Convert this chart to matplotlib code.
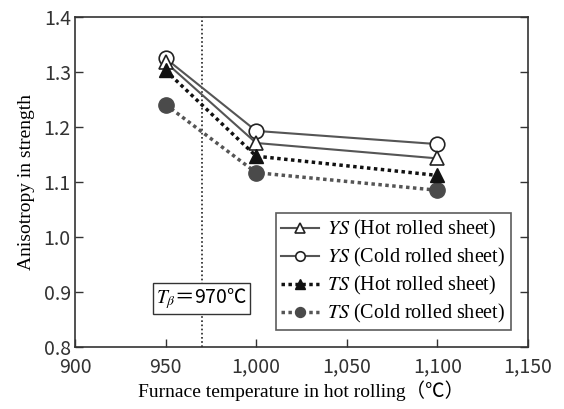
import matplotlib
matplotlib.use("Agg")
import matplotlib.pyplot as plt

plt.rcParams['mathtext.fontset'] = 'stix'

# Furnace temperatures (°C) and strength anisotropy values
temperature = [950, 1000, 1100]
ys_hot = [1.318, 1.171, 1.143]
ys_cold = [1.325, 1.193, 1.169]
ts_hot = [1.303, 1.147, 1.112]
ts_cold = [1.241, 1.117, 1.085]
t_beta = 970

x_ticks = [900, 950, 1000, 1050, 1100, 1150]
x_tick_labels = ['900', '950', '1,000', '1,050', '1,100', '1,150']
y_ticks = [0.8, 0.9, 1.0, 1.1, 1.2, 1.3, 1.4]

labels = [r'$\mathit{YS}$ (Hot rolled sheet)',
          r'$\mathit{YS}$ (Cold rolled sheet)',
          r'$\mathit{TS}$ (Hot rolled sheet)',
          r'$\mathit{TS}$ (Cold rolled sheet)']

serif = ['Liberation Serif', 'Noto Sans CJK JP']
sans = ['Noto Sans CJK JP', 'DejaVu Sans']

fig = plt.figure(figsize=(5.64, 4.09), dpi=100)
ax = fig.add_axes([0.133, 0.152, 0.803, 0.806])

gray = '#555555'
dark = '#4a4a4a'

ax.plot(temperature, ys_hot, color=gray, lw=1.5, marker='^', ms=10,
        mfc='white', mec='#222222', mew=1.2, label=labels[0], zorder=4)
ax.plot(temperature, ys_cold, color=gray, lw=1.5, marker='o', ms=10.5,
        mfc='white', mec='#222222', mew=1.2, label=labels[1], zorder=3)
ax.plot(temperature, ts_hot, color='#111111', lw=2.5, ls=(0, (1, 1)),
        marker='^', ms=10.5, mfc='#111111', mec='#111111', label=labels[2], zorder=5)
ax.plot(temperature, ts_cold, color=gray, lw=2.5, ls=(0, (1, 1)),
        marker='o', ms=11, mfc=dark, mec=dark, label=labels[3], zorder=2)

ax.axvline(t_beta, color='#222222', lw=1.2, ls=(0, (1, 1.5)), zorder=1)

ax.text(t_beta, 0.888, r'$T_\beta$' + '＝970℃', fontsize=14, family=sans,
        ha='center', va='center', zorder=6,
        bbox=dict(boxstyle='square,pad=0.15', fc='white', ec='#333333', lw=1))

ax.set_xlim(900, 1150)
ax.set_ylim(0.8, 1.4)
ax.set_xticks(x_ticks)
ax.set_xticklabels(x_tick_labels)
ax.set_yticks(y_ticks)
ax.set_yticklabels([f'{v:.1f}' for v in y_ticks])

for lab in ax.get_xticklabels() + ax.get_yticklabels():
    lab.set_family(sans)
    lab.set_fontsize(14)
    lab.set_color('#333333')

ax.tick_params(direction='in', length=6, width=1, right=True,
               color='#333333')
ax.tick_params(axis='x', pad=7)
ax.tick_params(axis='y', pad=3)
for s in ax.spines.values():
    s.set_color('#333333')
    s.set_linewidth(1.2)

ax.set_xlabel('Furnace temperature in hot rolling（℃）', family=serif,
              fontsize=14, labelpad=2)
ax.set_ylabel('Anisotropy in strength', family=serif, fontsize=14, labelpad=6)

leg = ax.legend(loc='lower right', bbox_to_anchor=(0.962, 0.05),
                prop={'family': serif, 'size': 14.5}, frameon=True,
                fancybox=False, edgecolor='#333333', handlelength=1.9,
                borderpad=0.25, labelspacing=0.25, handletextpad=0.4,
                borderaxespad=0, markerscale=0.65)
leg.get_frame().set_linewidth(1.2)

fig.savefig('out.png', dpi=100)
